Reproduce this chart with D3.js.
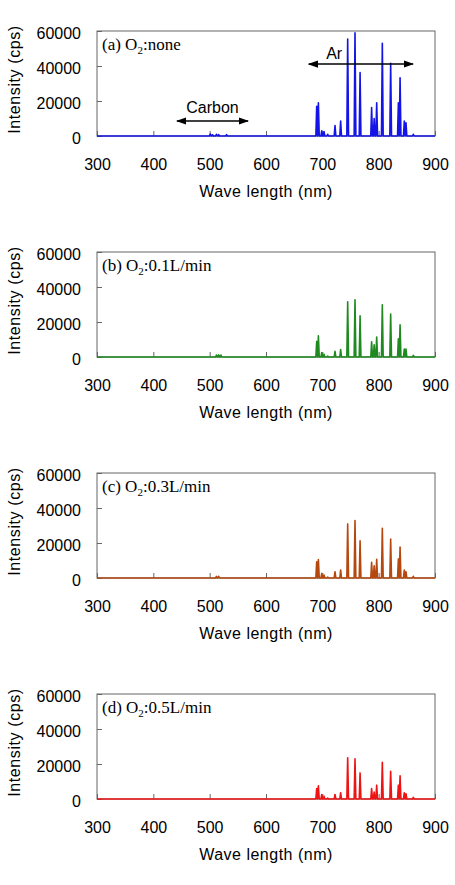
<!DOCTYPE html>
<html>
<head>
<meta charset="utf-8">
<script src="https://cdn.jsdelivr.net/npm/d3@7"></script>
<style>
  body { margin: 0; background: #fff; }
  text { font-family: "Liberation Sans", sans-serif; }
</style>
</head>
<body>
<svg id="chart" width="455" height="885"></svg>
<script>
// peak positions (nm) of the Ar lines
var arWaves = [690, 693, 699, 703, 709.5, 722.5, 732.5, 745, 758, 767, 787.5, 792, 796.5, 806.5, 821.3, 835, 838, 845.5, 848.5, 861.5];
var arNone = [17000, 19000, 3000, 2500, 1000, 6000, 8500, 55400, 59000, 36200, 16200, 10000, 19000, 53000, 41500, 19000, 33300, 8500, 7500, 1000];
var ar01 = [8900, 12150, 2600, 1500, 500, 3200, 4200, 31500, 32700, 23500, 8700, 7000, 11400, 29800, 24500, 10400, 18400, 4500, 4500, 900];
var ar03 = [9300, 10500, 2700, 1700, 500, 3600, 4600, 30900, 32800, 21300, 9000, 7000, 10700, 28400, 22300, 10900, 17700, 4600, 3600, 1000];
var ar05 = [6000, 7500, 2600, 1500, 500, 2600, 3600, 23500, 23000, 14900, 6000, 4000, 7900, 21000, 15800, 7900, 13200, 3600, 3000, 900];

// small carbon bumps around 500 nm
var cWaves = [501, 505, 512, 516, 520, 530];
var cNone = [1100, 700, 1000, 800, 0, 800];
var c01 = [0, 0, 1100, 1200, 1100, 0];
var c03 = [0, 0, 900, 1000, 0, 0];
var c05 = [0, 0, 0, 0, 0, 0];

var panelLabels = ["(a)", "(b)", "(c)", "(d)"];
var panelConds = [":none", ":0.1L/min", ":0.3L/min", ":0.5L/min"];
var panelColors = ["#1414e6", "#1f8a1f", "#b5480f", "#ee1414"];
var arSeries = [arNone, ar01, ar03, ar05];
var cSeries = [cNone, c01, c03, c05];

var xTicks = [300, 400, 500, 600, 700, 800, 900];
var yTicks = [0, 20000, 40000, 60000];

var svg = d3.select("#chart");
var left = 97, right = 435, ph = 105;

var x = d3.scaleLinear().domain([300, 900]).range([left, right]);

// arrowhead
svg.append("defs").append("marker")
    .attr("id", "arr")
    .attr("viewBox", "0 0 10 10")
    .attr("refX", 9).attr("refY", 5)
    .attr("markerWidth", 7).attr("markerHeight", 7)
    .attr("orient", "auto-start-reverse")
  .append("path")
    .attr("d", "M0,1.5 L10,5 L0,8.5 Z")
    .attr("fill", "#000");

// turn peak list into a spike spectrum on zero baseline
function spectrum(waves, vals) {
    var hw = 1.5;
    var pts = [[300, 0], [900, 0]];
    waves.forEach(function(w, i) {
        if (vals[i] <= 0) return;
        pts.push([w - hw, 0], [w, vals[i]], [w + hw, 0]);
    });
    pts.sort(function(a, b) { return a[0] - b[0]; });
    return pts;
}

panelLabels.forEach(function(lab, i) {
    var top = 31 + i * 221;
    var y = d3.scaleLinear().domain([0, 60000]).range([top + ph, top]);
    var g = svg.append("g");

    // frame
    g.append("rect")
        .attr("x", left).attr("y", top)
        .attr("width", right - left).attr("height", ph)
        .attr("fill", "none").attr("stroke", "#666").attr("stroke-width", 1);

    var xa = g.append("g")
        .attr("transform", "translate(0," + (top + ph) + ")")
        .call(d3.axisBottom(x).tickValues(xTicks).tickSize(-5).tickPadding(22.5));
    var ya = g.append("g")
        .attr("transform", "translate(" + left + ",0)")
        .call(d3.axisLeft(y).tickValues(yTicks).tickFormat(d3.format("d")).tickSize(-5).tickPadding(16));
    [xa, ya].forEach(function(a) {
        a.select(".domain").remove();
        a.selectAll(".tick line").attr("stroke", "#666");
        a.selectAll("text")
            .attr("fill", "#000")
            .style("font-family", "'Liberation Sans', sans-serif")
            .style("font-size", "16px");
    });
    ya.selectAll("text").attr("dy", "0.45em");

    // spectrum
    var pts = spectrum(arWaves.concat(cWaves), arSeries[i].concat(cSeries[i]));
    g.append("path")
        .datum(pts)
        .attr("fill", "none")
        .attr("stroke", panelColors[i])
        .attr("stroke-width", 1.6)
        .attr("stroke-linejoin", "round")
        .attr("d", d3.line().x(function(d) { return x(d[0]); }).y(function(d) { return y(d[1]); }));

    // panel title
    var t = g.append("text")
        .attr("x", left + 5).attr("y", top + 19)
        .style("font-family", "'Liberation Serif', 'Times New Roman', serif")
        .style("font-size", "17px");
    t.append("tspan").text(lab + " O");
    t.append("tspan").attr("dy", 4).style("font-size", "11px").text("2");
    t.append("tspan").attr("dy", -4).text(panelConds[i]);

    // axis titles
    g.append("text")
        .attr("x", (left + right) / 2).attr("y", top + ph + 61)
        .attr("text-anchor", "middle")
        .style("font-size", "16px").style("letter-spacing", "0.5px")
        .text("Wave length (nm)");
    g.append("text")
        .attr("transform", "translate(20," + (top + ph / 2 - 4) + ") rotate(-90)")
        .attr("text-anchor", "middle")
        .style("font-size", "16px").style("letter-spacing", "0.6px")
        .text("Intensity (cps)");

    if (i === 0) {
        // Carbon / Ar annotations
        g.append("line")
            .attr("x1", x(442)).attr("x2", x(568))
            .attr("y1", y(8600)).attr("y2", y(8600))
            .attr("stroke", "#000").attr("stroke-width", 1.5)
            .attr("marker-start", "url(#arr)").attr("marker-end", "url(#arr)");
        g.append("text")
            .attr("x", x(505)).attr("y", y(8600) - 8)
            .attr("text-anchor", "middle").style("font-size", "16px")
            .text("Carbon");
        g.append("line")
            .attr("x1", x(676)).attr("x2", x(861))
            .attr("y1", y(41100)).attr("y2", y(41100))
            .attr("stroke", "#000").attr("stroke-width", 1.5)
            .attr("marker-start", "url(#arr)").attr("marker-end", "url(#arr)");
        g.append("text")
            .attr("x", x(721)).attr("y", y(41100) - 5)
            .attr("text-anchor", "middle").style("font-size", "16px")
            .text("Ar");
    }
});
</script>
</body>
</html>
